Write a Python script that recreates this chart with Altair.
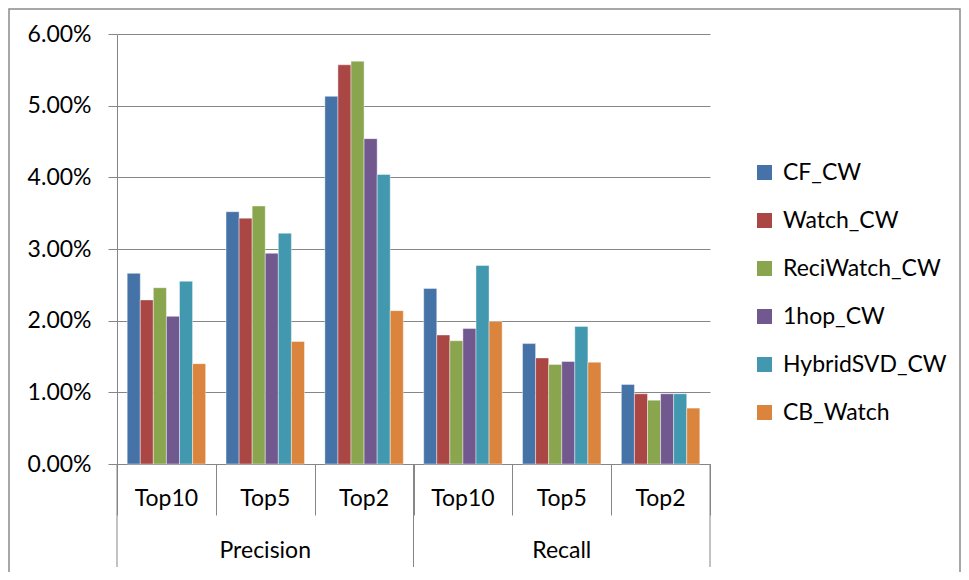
import altair as alt
import pandas as pd

# ---- data ----
groups = ["Precision", "Precision", "Precision", "Recall", "Recall", "Recall"]
tops = ["Top10", "Top5", "Top2", "Top10", "Top5", "Top2"]
series_names = ["CF_CW", "Watch_CW", "ReciWatch_CW", "1hop_CW", "HybridSVD_CW", "CB_Watch"]
CF_CW = [2.66, 3.52, 5.13, 2.45, 1.68, 1.11]
Watch_CW = [2.29, 3.43, 5.57, 1.80, 1.48, 0.98]
ReciWatch_CW = [2.46, 3.60, 5.62, 1.72, 1.39, 0.89]
Hop1_CW = [2.06, 2.94, 4.54, 1.89, 1.43, 0.98]
HybridSVD_CW = [2.55, 3.22, 4.04, 2.77, 1.92, 0.98]
CB_Watch = [1.40, 1.71, 2.14, 1.99, 1.42, 0.78]
series_values = [CF_CW, Watch_CW, ReciWatch_CW, Hop1_CW, HybridSVD_CW, CB_Watch]
colors = ["#4572A7", "#AA4643", "#89A54E", "#71588F", "#4198AF", "#DB843D"]
y_ticks = [0, 0.01, 0.02, 0.03, 0.04, 0.05, 0.06]

cats = [f"{g}|{t}" for g, t in zip(groups, tops)]
rows = []
for name, vals in zip(series_names, series_values):
    for c, v in zip(cats, vals):
        rows.append({"cat": c, "series": name, "value": v / 100})
df = pd.DataFrame(rows)

df_top = pd.DataFrame({"cat": cats, "label": tops})
df_grp = pd.DataFrame({"cat": ["Precision|Top5", "Recall|Top5"], "label": ["Precision", "Recall"]})
df_rule_start = pd.DataFrame({"cat": ["Precision|Top10", "Recall|Top10"]})
df_rule_end = pd.DataFrame({"cat": ["Recall|Top2"]})
df_one = pd.DataFrame({"k": [0]})

W, H = 593, 430
FONT = "Lato"
GRID = "#868686"
FS = 23

x_scale = alt.Scale(domain=cats, paddingInner=0, paddingOuter=0)
x_axis = alt.Axis(labels=False, title=None, tickBand="extent", tickSize=51,
                  tickColor=GRID, domainColor=GRID, tickWidth=1, domainWidth=1, grid=False)

bars = alt.Chart(df).mark_bar(stroke="white", strokeWidth=0.7, strokeOpacity=0.6).encode(
    x=alt.X("cat:N", scale=x_scale, axis=x_axis),
    xOffset=alt.XOffset("series:N", sort=series_names,
                        scale=alt.Scale(domain=series_names, paddingOuter=0.78, paddingInner=0)),
    y=alt.Y("value:Q", scale=alt.Scale(domain=[0, 0.06], nice=False),
            axis=alt.Axis(values=y_ticks, format=".2%", title=None, grid=True, gridColor=GRID,
                          gridWidth=1, tickSize=9, tickColor=GRID, domainColor=GRID,
                          labelFont=FONT, labelFontSize=FS, labelColor="black", labelPadding=17)),
    color=alt.Color("series:N", sort=series_names,
                    scale=alt.Scale(domain=series_names, range=colors),
                    legend=alt.Legend(title=None, orient="none", legendX=636, legendY=127,
                                      symbolType="square", symbolSize=225, symbolStrokeWidth=0,
                                      labelFont=FONT, labelFontSize=FS, labelColor="black",
                                      labelLimit=400, rowPadding=24, labelOffset=7, padding=0)),
)

top_text = alt.Chart(df_top).mark_text(baseline="middle", align="center", font=FONT,
                                       fontSize=FS, color="black").encode(
    x=alt.X("cat:N", scale=x_scale, axis=x_axis),
    y=alt.value(H + 35),
    text="label:N",
)

grp_text = alt.Chart(df_grp).mark_text(baseline="middle", align="center", font=FONT,
                                       fontSize=FS, color="black").encode(
    x=alt.X("cat:N", scale=x_scale, axis=x_axis),
    y=alt.value(H + 87),
    text="label:N",
)

rule_start = alt.Chart(df_rule_start).mark_rule(color=GRID, strokeWidth=1).encode(
    x=alt.X("cat:N", scale=x_scale, axis=x_axis, bandPosition=0),
    y=alt.value(H),
    y2=alt.value(H + 103),
)
rule_end = alt.Chart(df_rule_end).mark_rule(color=GRID, strokeWidth=1).encode(
    x=alt.X("cat:N", scale=x_scale, axis=x_axis, bandPosition=1),
    y=alt.value(H),
    y2=alt.value(H + 103),
)

frame = alt.Chart(df_one).mark_rect(fillOpacity=0, stroke="#8a8a8a", strokeWidth=1.5).encode(
    x=alt.value(-108),
    x2=alt.value(843),
    y=alt.value(-25),
    y2=alt.value(640),
)

chart = alt.layer(frame, bars, top_text, grp_text, rule_start, rule_end).properties(
    width=W, height=H,
    padding={"left": 109, "top": 26, "right": 251, "bottom": 108},
    autosize=alt.AutoSizeParams(type="none"),
).configure_view(strokeWidth=0)

chart.save("out.html", embed_options={"renderer": "svg", "actions": False})
